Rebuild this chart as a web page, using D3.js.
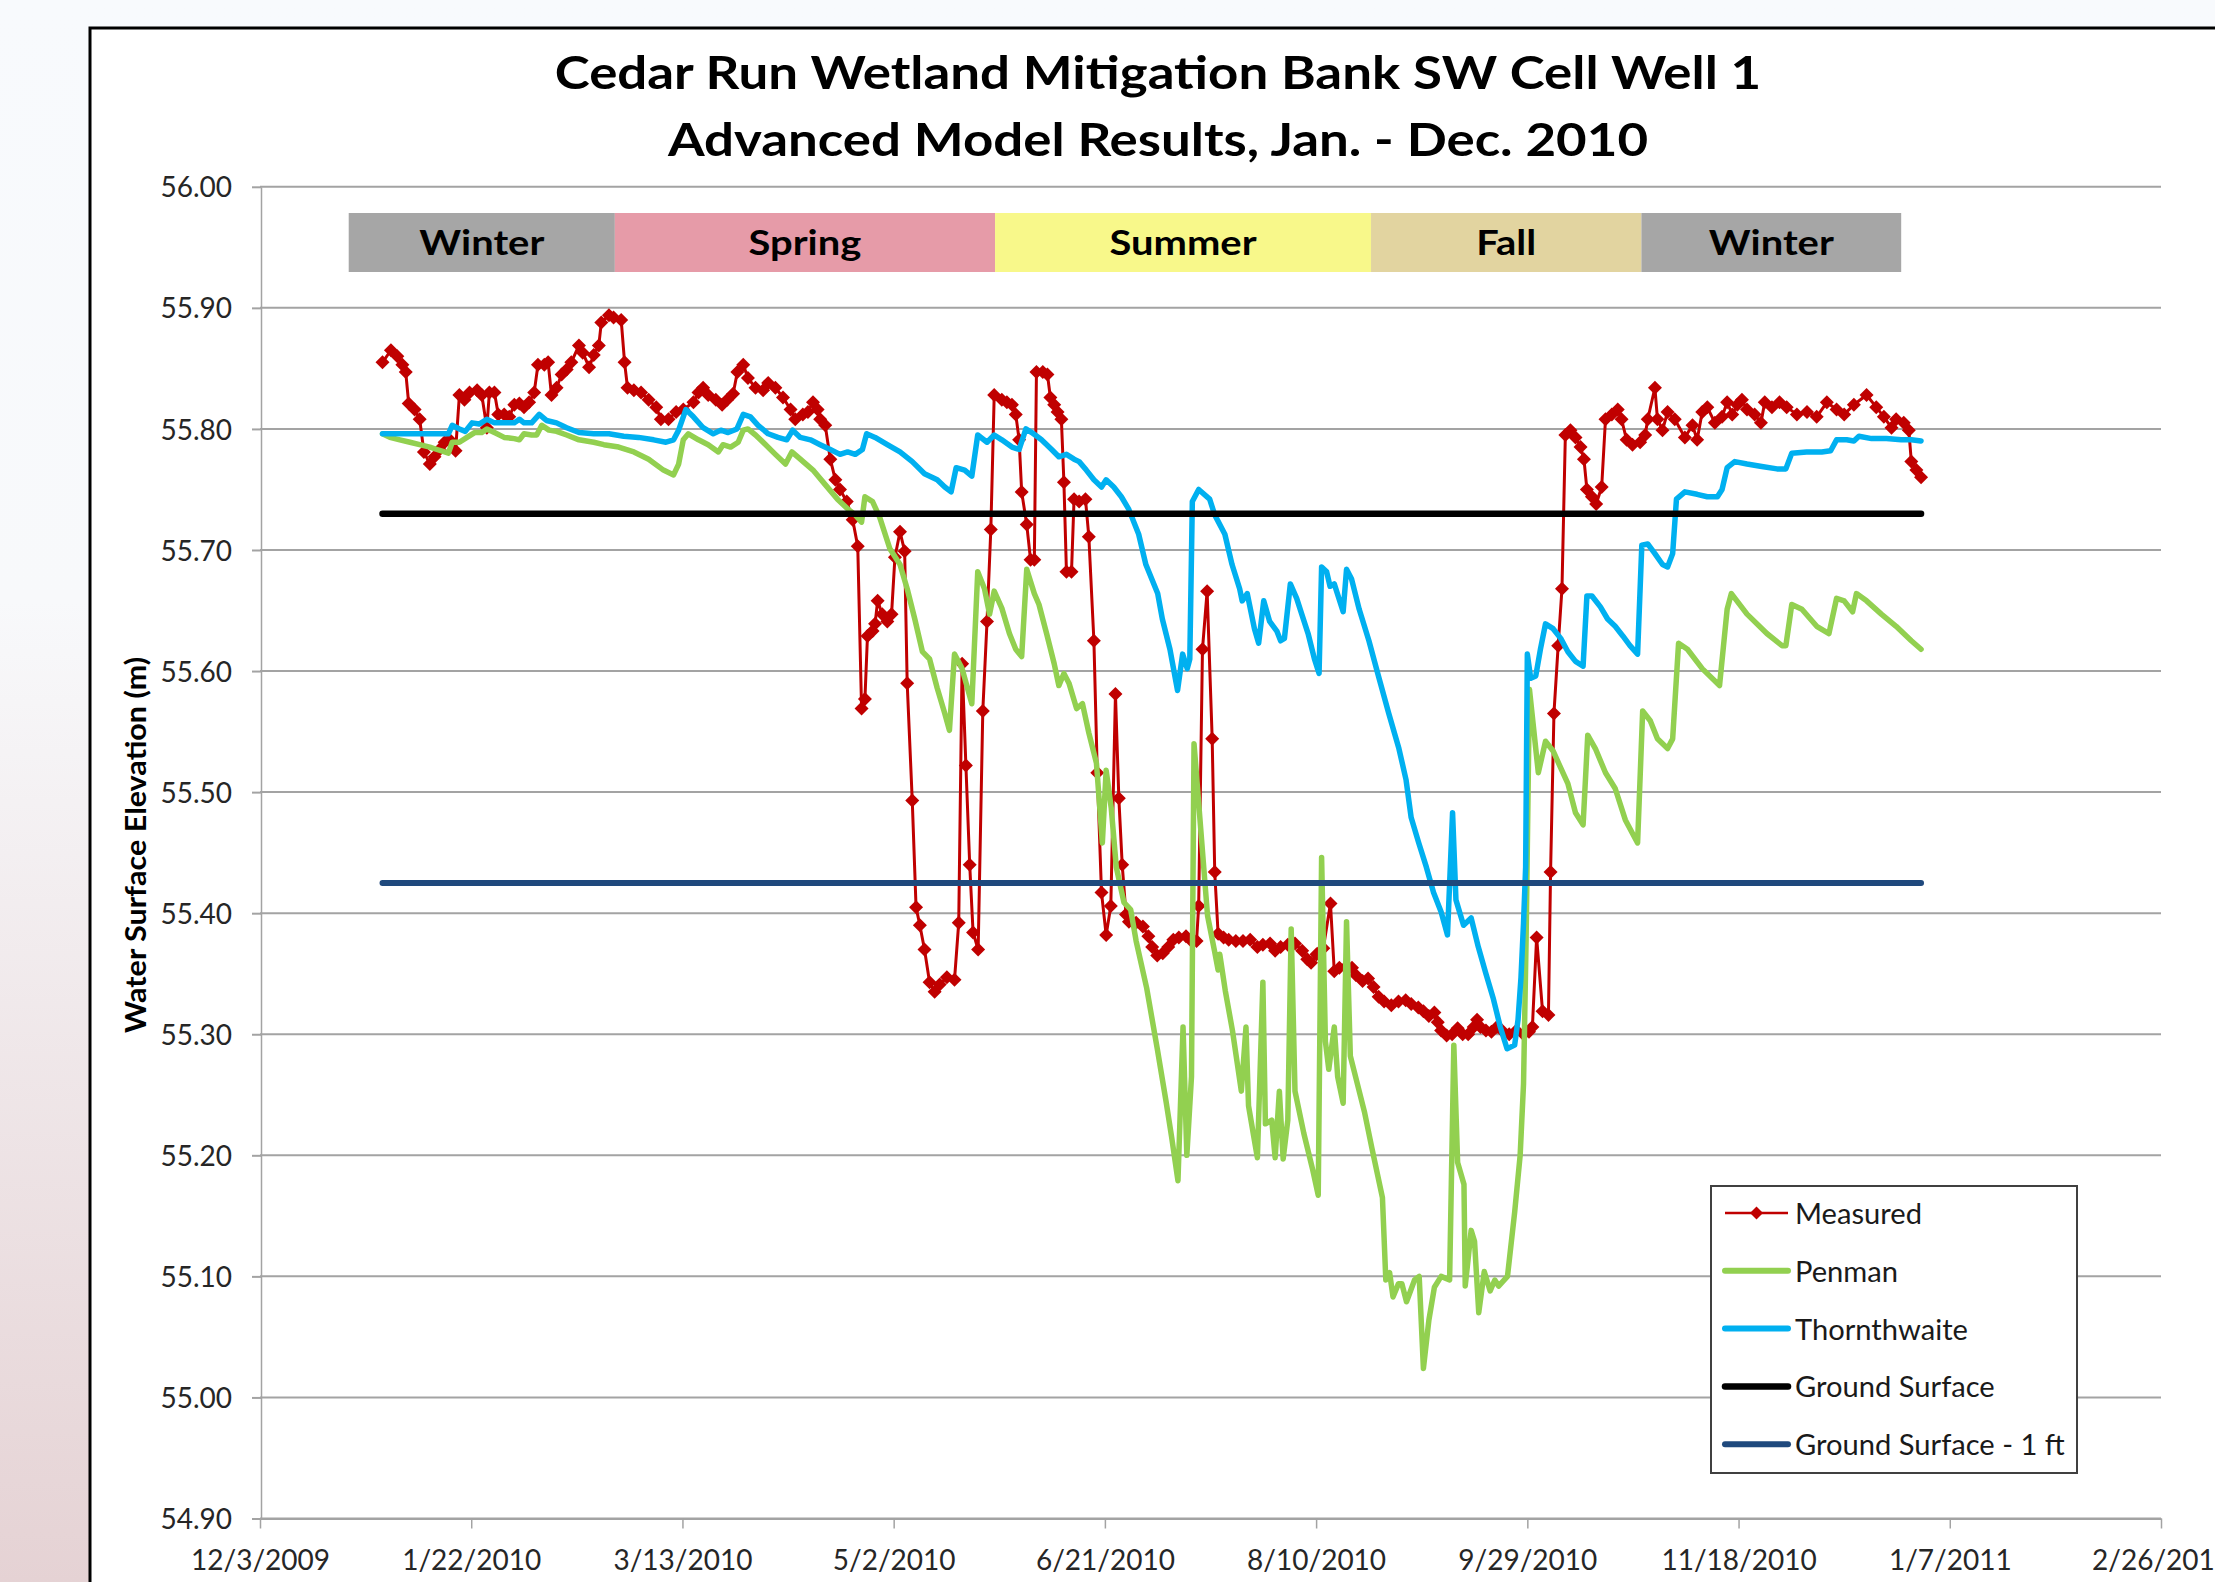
<!DOCTYPE html>
<html>
<head>
<meta charset="utf-8">
<script src="https://cdn.jsdelivr.net/npm/d3@7"></script>
<style>
  body { margin: 0; }
  svg { display: block; }
</style>
</head>
<body>
<div id="chart"></div>
<script>
// Values. Each point is [day of 2010 (0 = Jan 1), elevation in m]
const measured = [
  [0,55.855],[2,55.865],[3.5,55.860],[4.7,55.853],[5.5,55.847],[6.2,55.821],[7.6,55.816],[8.8,55.808],[9.8,55.781],
  [11.2,55.771],[12.3,55.777],[13.5,55.783],[14.7,55.789],[15.9,55.791],[17.3,55.782],[18.2,55.828],[19.4,55.824],
  [20.6,55.830],[22.4,55.832],[23.5,55.828],[24.7,55.801],[25.3,55.830],[26.5,55.830],[27.4,55.812],[28.8,55.812],
  [30,55.810],[31.2,55.820],[32.4,55.821],[33.5,55.818],[34.7,55.822],[35.9,55.830],[36.8,55.853],[38.3,55.853],
  [39.2,55.855],[40,55.828],[41.2,55.834],[42.4,55.845],[43.6,55.849],[44.7,55.855],[46.5,55.869],[47.4,55.863],
  [48.9,55.851],[50,55.861],[51.2,55.869],[51.8,55.888],[53.6,55.894],[54.7,55.892],[56.5,55.890],[57.3,55.855],
  [58,55.834],[59.5,55.832],[61.2,55.830],[63,55.824],[64.8,55.818],[65.9,55.808],[67.7,55.808],[69.5,55.814],
  [71.2,55.816],[73.6,55.822],[74.8,55.830],[75.9,55.834],[77.1,55.828],[78.9,55.824],[80.4,55.820],[81.6,55.824],
  [83,55.829],[84,55.847],[85.4,55.853],[86.5,55.842],[88.3,55.834],[90.1,55.832],[91.3,55.838],[93,55.834],
  [94.8,55.826],[96.6,55.816],[97.7,55.808],[99.5,55.812],[100.7,55.814],[101.9,55.822],[103,55.816],[103.6,55.808],
  [104.8,55.803],[106,55.775],[107.2,55.758],[108.3,55.750],[109.9,55.740],[111.3,55.725],[112.5,55.703],[113.4,55.569],
  [114.2,55.577],[114.8,55.629],[116,55.633],[116.6,55.639],[117.2,55.658],[118.3,55.647],[119.5,55.641],[120.5,55.647],
  [121.3,55.694],[122.5,55.715],[123.6,55.699],[124.2,55.590],[125.4,55.493],[126.3,55.405],[127.2,55.390],[128.3,55.370],
  [129.5,55.343],[130.7,55.335],[131.9,55.341],[133.6,55.347],[135.4,55.345],[136.4,55.392],[137.2,55.606],[138.1,55.522],
  [139,55.440],[139.8,55.384],[141,55.370],[142.1,55.567],[143.1,55.641],[144,55.717],[144.8,55.828],[146.6,55.824],
  [147.8,55.822],[149,55.820],[149.9,55.812],[150.7,55.791],[151.3,55.748],[152.5,55.721],[153.4,55.692],[154.3,55.692],
  [154.8,55.847],[156.3,55.847],[157.4,55.845],[158.1,55.826],[159,55.820],[159.8,55.814],[160.7,55.808],[161.3,55.756],
  [161.9,55.682],[163.1,55.682],[163.7,55.742],[164.9,55.740],[166.4,55.742],[167.2,55.711],[168.4,55.625],[169.2,55.516],
  [170.2,55.417],[171.3,55.382],[172.4,55.406],[173.5,55.581],[174.3,55.495],[175.1,55.440],[176,55.399],[176.7,55.393],
  [178.4,55.392],[180,55.389],[181.3,55.381],[182.2,55.372],[183.4,55.365],[184.7,55.367],[186,55.372],[187.2,55.378],
  [188.5,55.380],[190.2,55.381],[191.5,55.377],[192.7,55.377],[193.2,55.406],[194.1,55.618],[195.2,55.666],[196.4,55.544],
  [197,55.434],[197.8,55.383],[199.1,55.380],[200.3,55.378],[202,55.377],[203.7,55.377],[205.4,55.378],[207.1,55.372],
  [208.4,55.374],[210.1,55.375],[211.3,55.369],[212.6,55.372],[214.3,55.374],[216,55.375],[217.7,55.369],[218.9,55.362],
  [219.8,55.359],[221.1,55.366],[222.7,55.371],[224.4,55.408],[225.3,55.352],[226.5,55.355],[228.2,55.356],[229.5,55.355],
  [230.4,55.349],[232,55.344],[233.3,55.346],[234.6,55.339],[235.8,55.331],[237.1,55.327],[238.8,55.324],[240.5,55.327],
  [242.2,55.328],[243.5,55.325],[245.2,55.322],[246.4,55.319],[247.7,55.315],[249,55.318],[249.8,55.310],[250.6,55.303],
  [251.9,55.299],[253.2,55.300],[254.5,55.305],[255.7,55.300],[257,55.300],[258.3,55.306],[259.1,55.312],[259.9,55.306],
  [261.2,55.303],[262.5,55.302],[263.8,55.306],[265,55.303],[266.7,55.300],[268.4,55.303],[270.1,55.300],[271.4,55.302],
  [272.2,55.306],[273.2,55.380],[274.6,55.319],[276,55.316],[276.5,55.434],[277.3,55.565],[278.3,55.621],[279.2,55.668],
  [280,55.795],[281.2,55.799],[282.4,55.793],[283.6,55.785],[284.4,55.775],[285.1,55.750],[286.3,55.744],[287.3,55.738],
  [288.6,55.752],[289.5,55.808],[291,55.812],[292.4,55.816],[293.3,55.808],[294.5,55.791],[295.9,55.787],[297.7,55.789],
  [298.9,55.795],[299.5,55.808],[301.2,55.834],[301.8,55.808],[303,55.799],[304.2,55.814],[305.9,55.808],[308.3,55.793],
  [310.1,55.803],[311.2,55.791],[312.4,55.814],[313.6,55.818],[315.4,55.805],[317.1,55.810],[318.3,55.822],[319.5,55.812],
  [320.7,55.820],[321.8,55.824],[323,55.816],[324.8,55.812],[326.3,55.805],[327.2,55.822],[328.9,55.818],[330.7,55.822],
  [332.4,55.818],[334.8,55.812],[337.2,55.814],[339.5,55.810],[341.9,55.822],[344.2,55.816],[346,55.812],[348.3,55.820],
  [351.3,55.828],[353.6,55.818],[355.4,55.810],[357.2,55.801],[358.3,55.808],[360.1,55.805],[361.3,55.799],[361.9,55.773],
  [363.1,55.766],[364.2,55.760]
];

const penman = [
  [0,55.796],[1.75,55.793],[4.1,55.791],[6.5,55.789],[8.8,55.787],[11.2,55.785],[12.9,55.783],[14.7,55.781],[15.6,55.780],
  [16.5,55.789],[18.2,55.789],[20,55.793],[21.8,55.797],[23.5,55.797],[24.7,55.800],[26.5,55.797],[28.8,55.793],
  [31.2,55.792],[32.4,55.791],[33.5,55.796],[35.3,55.795],[36.5,55.795],[37.7,55.803],[39.4,55.799],[41.2,55.798],
  [43.6,55.795],[46.5,55.791],[50,55.789],[52.4,55.787],[55.9,55.785],[59.5,55.781],[63,55.775],[66.5,55.766],
  [68.9,55.762],[70.1,55.771],[71.2,55.791],[72.4,55.796],[74.8,55.791],[77.1,55.787],[79.5,55.781],[80.6,55.787],
  [82.4,55.785],[84.2,55.789],[85.4,55.799],[86.5,55.800],[88.3,55.795],[90.7,55.787],[93,55.779],[95.4,55.771],
  [96.9,55.781],[98.9,55.775],[101.9,55.766],[104.8,55.754],[107.7,55.742],[110.1,55.734],[111.9,55.729],[113.4,55.723],
  [114.2,55.744],[116,55.740],[117.7,55.727],[120.1,55.701],[122.5,55.688],[124.2,55.668],[126,55.643],[127.8,55.616],
  [129.5,55.610],[131.3,55.586],[133.1,55.565],[134.2,55.551],[135.4,55.614],[137.2,55.602],[139.5,55.573],[140.9,55.682],
  [142.5,55.668],[143.7,55.647],[144.8,55.666],[146.6,55.652],[148.4,55.631],[149.9,55.618],[151.3,55.612],[152.5,55.684],
  [154.3,55.664],[155.4,55.655],[157.2,55.631],[159,55.606],[160.1,55.588],[161.3,55.598],[162.5,55.590],[164.3,55.569],
  [165.7,55.573],[167.2,55.549],[169,55.524],[170.4,55.458],[171.3,55.518],[172.5,55.487],[173.7,55.438],[175.5,55.409],
  [177.1,55.403],[178.4,55.377],[180.9,55.338],[183.4,55.288],[185.5,55.244],[186.8,55.215],[188.3,55.179],[189.5,55.306],
  [190.4,55.200],[191.5,55.265],[192.1,55.540],[195.3,55.398],[197,55.368],[197.8,55.353],[198.2,55.366],[199.5,55.336],
  [201.2,55.303],[203.3,55.253],[204.4,55.306],[205,55.241],[207.1,55.198],[208.4,55.343],[209,55.226],[210.5,55.229],
  [211.3,55.198],[212.3,55.253],[213.2,55.197],[214.3,55.229],[215.1,55.387],[216,55.253],[218.1,55.218],[220.2,55.188],
  [221.5,55.167],[222.3,55.446],[223.2,55.294],[224,55.271],[225.3,55.306],[226.1,55.265],[227.4,55.243],[228.2,55.393],
  [229.1,55.282],[229.9,55.271],[232.5,55.235],[234.2,55.206],[236.7,55.165],[237.5,55.097],[238.4,55.103],[239.2,55.083],
  [240.5,55.094],[241.3,55.094],[242.4,55.079],[244.3,55.097],[245.4,55.100],[246.4,55.024],[247.7,55.064],[249,55.091],
  [250.6,55.100],[252.6,55.097],[253.6,55.291],[254.5,55.194],[256,55.176],[256.3,55.092],[257.7,55.138],[258.5,55.129],
  [259.5,55.070],[260.8,55.104],[262.2,55.088],[263.3,55.097],[264.2,55.092],[266.3,55.100],[268,55.153],[269.3,55.200],
  [270.1,55.259],[270.7,55.377],[271.5,55.585],[273.6,55.516],[275.3,55.542],[277.1,55.534],[278.9,55.520],[280.6,55.507],
  [282.4,55.483],[284.2,55.473],[285.3,55.547],[287.1,55.536],[289.5,55.516],[291.8,55.503],[294.2,55.477],[297.1,55.458],
  [298.3,55.567],[300.1,55.559],[301.8,55.544],[304.2,55.536],[305.4,55.544],[306.8,55.623],[308.9,55.618],[312.4,55.602],
  [316.5,55.588],[318.3,55.651],[319.3,55.664],[323,55.647],[327.7,55.631],[331.3,55.621],[332.2,55.621],[333.6,55.655],
  [336,55.651],[339.5,55.637],[342.4,55.631],[344.2,55.660],[346,55.658],[348,55.649],[348.9,55.664],[351.3,55.658],
  [354.8,55.647],[358.3,55.637],[361.9,55.625],[364.2,55.618]
];

const thornthwaite = [
  [0,55.796],[2.9,55.796],[8.8,55.796],[15.6,55.796],[16.5,55.803],[18.2,55.800],[19.6,55.798],[21.2,55.805],[22.9,55.804],
  [24.7,55.808],[26.5,55.805],[28.8,55.805],[31.2,55.805],[32.4,55.808],[33.5,55.805],[35.3,55.805],[37.1,55.812],
  [38.8,55.807],[41.2,55.805],[43.6,55.801],[46.5,55.797],[50,55.796],[53.6,55.796],[57.1,55.794],[60.6,55.793],
  [64.2,55.791],[67.1,55.789],[68.9,55.791],[70.1,55.799],[71.8,55.816],[73.6,55.810],[75.9,55.801],[78.3,55.796],
  [80.1,55.799],[81.8,55.797],[83.9,55.800],[85.4,55.812],[87.1,55.810],[88.9,55.803],[91.3,55.796],[93.6,55.793],
  [95.7,55.791],[97.1,55.799],[98.9,55.793],[101.3,55.791],[103.6,55.787],[106,55.783],[108.3,55.779],[110.1,55.781],
  [111.9,55.779],[113.6,55.783],[114.6,55.796],[116.6,55.793],[119.5,55.787],[122.5,55.781],[125.4,55.773],[128.3,55.763],
  [131.3,55.758],[133.1,55.752],[134.6,55.748],[135.8,55.768],[137.8,55.766],[139.5,55.761],[140.9,55.795],[143.1,55.789],
  [144.8,55.795],[146.6,55.791],[149,55.785],[150.7,55.783],[152.3,55.800],[153.7,55.797],[156,55.791],[158.4,55.783],
  [160.1,55.777],[161.9,55.779],[163.7,55.775],[164.9,55.773],[166.6,55.766],[168.4,55.758],[170.2,55.752],[171.3,55.758],
  [173.1,55.752],[174.9,55.744],[176.6,55.734],[179,55.713],[180.7,55.688],[183.5,55.664],[184.6,55.643],[186.4,55.618],
  [188.2,55.584],[189.4,55.614],[190.5,55.602],[191.1,55.610],[191.7,55.740],[193.2,55.750],[195.8,55.742],[197,55.729],
  [199.4,55.713],[201.1,55.688],[202.9,55.668],[203.5,55.658],[204.7,55.664],[206.4,55.635],[207.4,55.623],[208.6,55.658],
  [210,55.641],[211.7,55.633],[212.6,55.625],[213.5,55.627],[214.9,55.672],[216.4,55.660],[217.6,55.647],[219.1,55.631],
  [220.6,55.610],[221.7,55.598],[222.3,55.686],[223.5,55.682],[224.3,55.670],[225.3,55.672],[227.4,55.649],[228.2,55.684],
  [229.4,55.676],[231.2,55.651],[233.5,55.625],[235.9,55.594],[238.2,55.565],[240.6,55.536],[242.3,55.510],[243.5,55.479],
  [245.3,55.458],[247.1,55.438],[248.8,55.417],[250.6,55.401],[252.1,55.382],[253.3,55.483],[254.1,55.411],[255.9,55.390],
  [257.7,55.396],[259.4,55.372],[261.2,55.350],[262.9,55.330],[264.6,55.306],[266.2,55.288],[268,55.291],[268.8,55.312],
  [269.5,55.347],[270.1,55.392],[270.6,55.438],[271,55.614],[271.8,55.594],[273,55.596],[274.1,55.618],[275.3,55.639],
  [277.1,55.635],[278.9,55.627],[280.6,55.616],[282.4,55.608],[284.2,55.604],[285.1,55.662],[286.3,55.662],[288.3,55.653],
  [290,55.643],[291.8,55.637],[293.6,55.629],[295.3,55.621],[297.1,55.614],[298.1,55.704],[299.5,55.705],[301.2,55.697],
  [303,55.688],[304.2,55.686],[305.4,55.697],[306.3,55.742],[308.3,55.748],[311.2,55.746],[313.6,55.744],[316,55.744],
  [317.1,55.750],[318.3,55.768],[320.1,55.773],[323,55.771],[326.5,55.769],[330.1,55.767],[332.2,55.767],[333.6,55.780],
  [337.1,55.781],[340.7,55.781],[342.8,55.782],[344.2,55.791],[346.6,55.791],[348.3,55.790],[349.5,55.794],[352.5,55.792],
  [356,55.792],[359.5,55.791],[361.9,55.791],[364.2,55.790]
];

// Reference levels, drawn over the whole year
const groundDays = [0, 364.2];
const groundSurface = [55.73, 55.73];
const groundSurfaceMinus1ft = [55.425, 55.425];

// Season bar across the top (day of 2010 where each block starts/ends)
const seasonNames = ["Winter", "Spring", "Summer", "Fall", "Winter"];
const seasonBounds = [-8, 55, 145, 234, 298, 359.5];

// Axis ticks
const yTickValues = [54.9, 55.0, 55.1, 55.2, 55.3, 55.4, 55.5, 55.6, 55.7, 55.8, 55.9, 56.0];
const xTickLabels = ["2009-12-03", "2010-01-22", "2010-03-13", "2010-05-02", "2010-06-21",
  "2010-08-10", "2010-09-29", "2010-11-18", "2011-01-07", "2011-02-26"];

const W = 2215, H = 1582;
const plot = { left: 260, right: 2161, top: 186.8, bottom: 1518.5 };
const FONT = "Lato, 'Open Sans', sans-serif";
const seasonColors = ["#a6a6a6", "#e69ba8", "#f8f88a", "#e2d4a0", "#a6a6a6"];

const base = Date.UTC(2010, 0, 1);
const toDate = (d) => new Date(base + d * 864e5);
const parse = d3.utcParse("%Y-%m-%d");

// Widen text a little: the original face is taller for its width than Lato
function stretch(sel, k) {
  sel.each(function () {
    const w = this.getComputedTextLength();
    d3.select(this)
      .attr("textLength", w * k)
      .attr("lengthAdjust", "spacingAndGlyphs");
  });
}

const x = d3.scaleUtc()
  .domain([parse("2009-12-03"), parse("2011-02-26")])
  .range([plot.left, plot.right]);
const y = d3.scaleLinear().domain([54.9, 56.0]).range([plot.bottom, plot.top]);

const svg = d3.select("#chart").append("svg")
  .attr("width", W)
  .attr("height", H)
  .attr("viewBox", `0 0 ${W} ${H}`)
  .style("font-family", FONT);

// Slide background behind the chart
const grad = svg.append("defs").append("linearGradient")
  .attr("id", "bg").attr("x1", 0).attr("y1", 0).attr("x2", 0).attr("y2", 1);
grad.append("stop").attr("offset", "0").attr("stop-color", "#f8fafd");
grad.append("stop").attr("offset", "0.38").attr("stop-color", "#f8f9fb");
grad.append("stop").attr("offset", "1").attr("stop-color", "#e5d2d4");
svg.append("rect").attr("width", W).attr("height", H).attr("fill", "url(#bg)");

// Chart area
svg.append("rect")
  .attr("x", 90).attr("y", 28)
  .attr("width", W).attr("height", H)
  .attr("fill", "#fff")
  .attr("stroke", "#000")
  .attr("stroke-width", 3);

// Title
const title = svg.append("g")
  .attr("font-weight", "bold")
  .attr("font-size", 46)
  .attr("text-anchor", "middle")
  .attr("fill", "#000");
title.append("text").attr("x", 1158).attr("y", 88.6)
  .text("Cedar Run Wetland Mitigation Bank SW Cell Well 1");
title.append("text").attr("x", 1158).attr("y", 156.4)
  .text("Advanced Model Results, Jan. - Dec. 2010");
stretch(title.selectAll("text"), 1.148);

// Horizontal gridlines
svg.append("g")
  .selectAll("line")
  .data(yTickValues)
  .join("line")
  .attr("x1", plot.left)
  .attr("x2", plot.right)
  .attr("y1", (d) => y(d))
  .attr("y2", (d) => y(d))
  .attr("stroke", "#a3a3a3")
  .attr("stroke-width", 2);

// Y axis
const yAxis = svg.append("g")
  .attr("transform", `translate(${plot.left + 1},0)`)
  .call(d3.axisLeft(y).tickValues(yTickValues).tickFormat(d3.format(".2f"))
    .tickSize(9).tickSizeOuter(0).tickPadding(20));
yAxis.select(".domain").attr("stroke", "#a3a3a3").attr("stroke-width", 1.5);
yAxis.selectAll(".tick line").attr("stroke", "#a3a3a3").attr("stroke-width", 2);
yAxis.selectAll(".tick text")
  .attr("font-family", FONT)
  .attr("font-size", 28)
  .attr("fill", "#262626")
  .attr("dy", "0.36em");

// X axis
const fmt = d3.utcFormat("%-m/%-d/%Y");
const xAxis = svg.append("g")
  .attr("transform", `translate(0,${plot.bottom})`)
  .call(d3.axisBottom(x).tickValues(xTickLabels.map(parse)).tickFormat(fmt)
    .tickSize(10).tickSizeOuter(0).tickPadding(22));
xAxis.select(".domain").attr("stroke", "#a3a3a3").attr("stroke-width", 2);
xAxis.selectAll(".tick line").attr("stroke", "#a3a3a3").attr("stroke-width", 1.5);
xAxis.selectAll(".tick text")
  .attr("font-family", FONT)
  .attr("font-size", 28)
  .attr("fill", "#262626");

// Y axis title
const yTitle = svg.append("text")
  .attr("transform", "translate(146,845) rotate(-90)")
  .attr("text-anchor", "middle")
  .attr("font-weight", "bold")
  .attr("font-size", 28)
  .attr("fill", "#000")
  .text("Water Surface Elevation (m)");
stretch(yTitle, 1.09);

// Season blocks
const seasons = seasonNames.map((name, i) => ({
  name, start: seasonBounds[i], end: seasonBounds[i + 1], color: seasonColors[i],
}));
const seasonG = svg.append("g");
seasonG.selectAll("rect")
  .data(seasons)
  .join("rect")
  .attr("x", (d) => x(toDate(d.start)))
  .attr("width", (d) => x(toDate(d.end)) - x(toDate(d.start)))
  .attr("y", 213)
  .attr("height", 59)
  .attr("fill", (d) => d.color);
seasonG.selectAll("text")
  .data(seasons)
  .join("text")
  .attr("x", (d) => (x(toDate(d.start)) + x(toDate(d.end))) / 2)
  .attr("y", 255)
  .attr("text-anchor", "middle")
  .attr("font-weight", "bold")
  .attr("font-size", 35)
  .attr("fill", "#000")
  .text((d) => d.name)
  .call(stretch, 1.14);

// Series
const line = d3.line()
  .x((d) => x(toDate(d[0])))
  .y((d) => y(d[1]));

const diamond = (r) => `M0,${-r}L${r},0L0,${r}L${-r},0Z`;
const RED = "#c00000", GREEN = "#92d050", BLUE = "#00b0f0", NAVY = "#1f497d";

const series = svg.append("g")
  .attr("fill", "none")
  .attr("stroke-linejoin", "round")
  .attr("stroke-linecap", "round");

series.append("path")
  .datum(measured)
  .attr("d", line)
  .attr("stroke", RED)
  .attr("stroke-width", 3);
series.append("g")
  .selectAll("path")
  .data(measured)
  .join("path")
  .attr("transform", (d) => `translate(${x(toDate(d[0]))},${y(d[1])})`)
  .attr("d", diamond(7))
  .attr("fill", RED);

series.append("path")
  .datum(penman)
  .attr("d", line)
  .attr("stroke", GREEN)
  .attr("stroke-width", 5.5);

series.append("path")
  .datum(thornthwaite)
  .attr("d", line)
  .attr("stroke", BLUE)
  .attr("stroke-width", 5.5);

series.append("path")
  .datum(groundDays.map((d, i) => [d, groundSurface[i]]))
  .attr("d", line)
  .attr("stroke", "#000")
  .attr("stroke-width", 6.5);

series.append("path")
  .datum(groundDays.map((d, i) => [d, groundSurfaceMinus1ft[i]]))
  .attr("d", line)
  .attr("stroke", NAVY)
  .attr("stroke-width", 6);

// Legend
const legendItems = [
  { name: "Measured", color: RED, width: 2.5, marker: true },
  { name: "Penman", color: GREEN, width: 6 },
  { name: "Thornthwaite", color: BLUE, width: 6 },
  { name: "Ground Surface", color: "#000", width: 6.5 },
  { name: "Ground Surface - 1 ft", color: NAVY, width: 6 },
];
const legend = svg.append("g").attr("transform", "translate(1711,1186)");
legend.append("rect")
  .attr("width", 366)
  .attr("height", 287)
  .attr("fill", "#fff")
  .attr("stroke", "#404040")
  .attr("stroke-width", 2);
const item = legend.selectAll("g.item")
  .data(legendItems)
  .join("g")
  .attr("class", "item")
  .attr("transform", (d, i) => `translate(0,${27 + i * 57.8})`);
item.append("line")
  .attr("x1", 14).attr("x2", 77)
  .attr("stroke", (d) => d.color)
  .attr("stroke-width", (d) => d.width)
  .attr("stroke-linecap", (d) => (d.marker ? "butt" : "round"));
item.filter((d) => d.marker)
  .append("path")
  .attr("transform", "translate(45.5,0)")
  .attr("d", diamond(6.5))
  .attr("fill", RED);
item.append("text")
  .attr("x", 84)
  .attr("y", 11)
  .attr("font-size", 28)
  .attr("fill", "#1a1a1a")
  .text((d) => d.name)
  .call(stretch, 1.04);
</script>
</body>
</html>
